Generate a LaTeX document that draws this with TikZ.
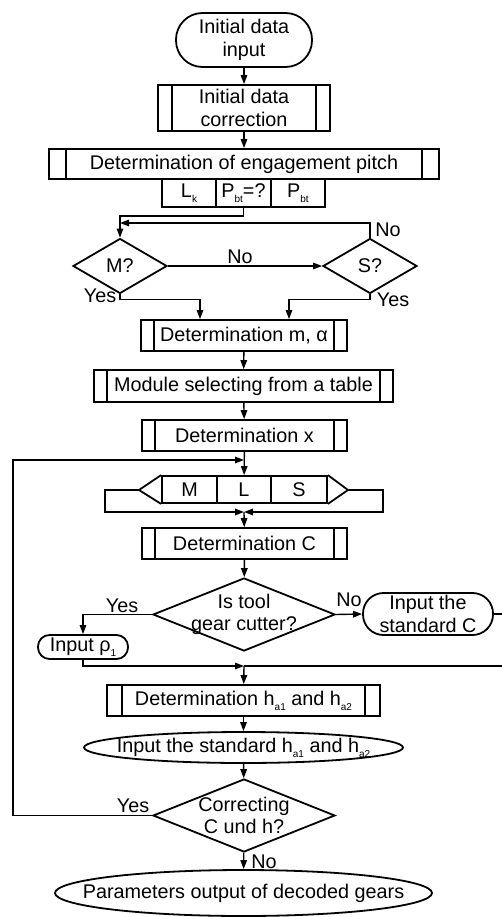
\documentclass[tikz,border=0pt]{standalone}
\usepackage{fontspec}
\setmainfont{Liberation Sans}
\usetikzlibrary{shapes.geometric,arrows.meta}

% small lowered index, e.g. P_bt, h_a1
\newcommand{\lowidx}[1]{\raisebox{-0.5ex}{\fontsize{10}{10}\selectfont #1}}

\tikzset{
  base/.style={draw, line width=1.8pt, inner sep=0pt, align=center,
               font=\fontsize{19.8}{22.5}\selectfont},
  proc/.style={base, rectangle, path picture={
     \draw[line width=1.8pt] ([xshift=#1]path picture bounding box.north west) -- ([xshift=#1]path picture bounding box.south west);
     \draw[line width=1.8pt] ([xshift=-#1]path picture bounding box.north east) -- ([xshift=-#1]path picture bounding box.south east);}},
  proc/.default=14pt,
  term/.style={base, rectangle, rounded corners=#1},
  cell/.style={base, rectangle},
  decide/.style={base, diamond, inner xsep=-80pt, inner ysep=-40pt},
  oval/.style={base, ellipse, inner xsep=-200pt, inner ysep=-40pt},
  arr/.style={line width=1.4pt, -{Triangle[length=9pt,width=6.5pt]}},
  ln/.style={line width=1.4pt},
  lbl/.style={font=\fontsize{19.8}{22.5}\selectfont, inner sep=0pt},
}

\begin{document}
\begin{tikzpicture}[x=1pt,y=-1pt]
\useasboundingbox (0,0) rectangle (501,917);

% ---- top part
\node[term=26.5pt, minimum width=136, minimum height=54] (start) at (244,40) {Initial data\\input};
\node[proc, minimum width=172, minimum height=46] (corr) at (244,108) {Initial data\\correction};
\node[proc=17pt, minimum width=390, minimum height=30] (pitch) at (244,164) {Determination of engagement pitch};
\node[cell, minimum width=54, minimum height=28] (lk) at (189,193) {L\lowidx{k}};
\node[cell, minimum width=55, minimum height=28] (pq) at (243.5,193) {P\lowidx{bt}=?};
\node[cell, minimum width=54, minimum height=28] (pbt) at (298,193) {P\lowidx{bt}};

\node[decide, minimum width=94, minimum height=55] (mq) at (120,266) {M?};
\node[decide, minimum width=94, minimum height=55] (sq) at (370,266) {S?};

\node[proc=13pt, minimum width=206, minimum height=31] (mal) at (244,335.5) {Determination m, α};
\node[proc=13pt, minimum width=299, minimum height=32] (mod) at (243.5,386) {Module selecting from a table};
\node[proc=13pt, minimum width=205, minimum height=31] (detx) at (244.5,435.5) {Determination x};

% ---- case selector M / L / S
\node[cell, minimum width=55, minimum height=27] (cm) at (189.5,489.5) {M};
\node[cell, minimum width=54, minimum height=27] (cl) at (244,489.5) {L};
\node[cell, minimum width=56, minimum height=27] (cs) at (299,489.5) {S};
\coordinate (ltip) at (139,490);
\coordinate (rtip) at (348,490);
\draw[line width=1.8pt, line join=miter] (cm.north west) -- (ltip) -- (cm.south west);
\draw[line width=1.8pt, line join=miter] (cs.north east) -- (rtip) -- (cs.south east);

\node[proc=13pt, minimum width=205, minimum height=31] (detc) at (244.5,543.5) {Determination C};
\node[decide, minimum width=182, minimum height=73] (tool) at (244,614.5) {Is tool\\gear cutter?};
\node[term=11.5pt, minimum width=90, minimum height=24] (rho) at (83,647) {Input ρ\lowidx{1}};
\node[term=20.5pt, minimum width=130, minimum height=42] (stdc) at (428,614) {Input the\\standard C};

\node[proc=15pt, minimum width=273, minimum height=31] (deth) at (243.5,700.5) {Determination h\lowidx{a1} and h\lowidx{a2}};
\node[oval, minimum width=319, minimum height=31] (stdh) at (243.5,747.5) {Input the standard h\lowidx{a1} and h\lowidx{a2}};
\node[decide, minimum width=182, minimum height=73] (corq) at (244,815.5) {Correcting\\C und h?};
\node[oval, minimum width=377, minimum height=46] (out) at (243.5,893) {Parameters output of decoded gears};

% ---- junction points
\coordinate (jm) at (120,223);
\coordinate (jloop) at (244,460);
\coordinate (jcase) at (244,512);
\coordinate (jtool) at (244,666);

% ---- connectors
\draw[arr] (start) -- (corr);
\draw[arr] (corr) -- (pitch);
\draw[arr] (pq.south) -- ++(0,8) -| (mq.north);
\draw[arr] (sq.north) |- (jm);
\draw[arr] (mq.east) -- (sq.west);
\draw[arr] (mq.south) -- ++(0,5) -| ([xshift=-44pt]mal.north);
\draw[arr] (sq.south) -- ++(0,5) -| ([xshift=45pt]mal.north);
\draw[arr] (mal) -- (mod);
\draw[arr] (mod) -- (detx);
\draw[arr] (detx) -- (cl);
\draw[arr] (corq.west) -| (13,460) -- (jloop);
\draw[arr] (ltip) -- (105,490) |- (jcase);
\draw[arr] (rtip) -- (383,490) |- (jcase);
\draw[arr] (jcase) -- (detc);
\draw[arr] (detc) -- (tool);
\draw[arr] (tool.west) -| (rho.north);
\draw[arr] (tool.east) -- (stdc.west);
\draw[arr] (rho.south) |- (jtool);
\draw[ln] (stdc.east) -- (504,614) |- (jtool);
\draw[arr] (jtool) -- (deth);
\draw[arr] (deth) -- (stdh);
\draw[arr] (stdh) -- (corq);
\draw[arr] (corq) -- (out);

% ---- branch labels
\node[lbl] at (388,230) {No};
\node[lbl] at (240,257) {No};
\node[lbl] at (100,296) {Yes};
\node[lbl] at (393,300) {Yes};
\node[lbl] at (122,606) {Yes};
\node[lbl] at (349,600) {No};
\node[lbl] at (133,806) {Yes};
\node[lbl] at (264,862) {No};
\end{tikzpicture}
\end{document}
